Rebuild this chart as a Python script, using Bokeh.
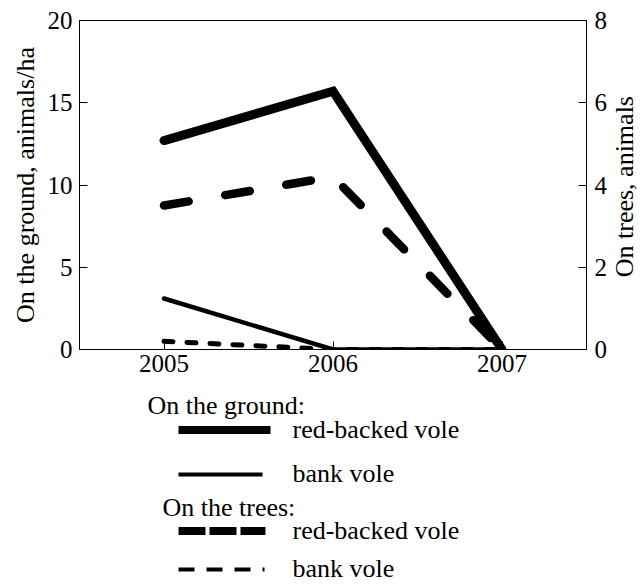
import math
from bokeh.plotting import figure
from bokeh.models import Range1d, LinearAxis, FixedTicker
from bokeh.layouts import gridplot
from bokeh.embed import file_html
from bokeh.resources import INLINE
from bokeh.core.properties import value

# ---- data ----
years = [2005, 2006, 2007]
ground_red_backed = [12.7, 15.7, 0.0]   # animals/ha (left axis)
ground_bank = [3.1, 0.0, 0.0]           # animals/ha (left axis)
trees_red_backed = [3.5, 4.2, 0.0]      # animals (right axis)
trees_bank = [0.2, 0.0, 0.0]            # animals (right axis)

x_ticks = [2005, 2006, 2007]
left_ticks = [0, 5, 10, 15, 20]
right_ticks = [0, 2, 4, 6, 8]

left_title = "On the ground, animals/ha"
right_title = "On trees, animals"
legend_titles = ["On the ground:", "On the trees:"]
legend_labels = ["red-backed vole", "bank vole", "red-backed vole", "bank vole"]

FONT = "Liberation Serif"
TICK_FS = "25px"
LABEL_FS = "26px"

W = 644
MAIN_W = 610
SIDE_W = W - MAIN_W
BL, BR = 79, 24
BT, BB = 20, 40
MAIN_H = 389
LEG_H = 195

# ---- main chart ----
p = figure(width=MAIN_W, height=MAIN_H,
           x_range=Range1d(2004.5, 2007.5), y_range=Range1d(0, 20),
           output_backend="svg", toolbar_location=None,
           min_border_left=BL, min_border_right=BR,
           min_border_top=BT, min_border_bottom=BB)
p.extra_y_ranges = {"trees": Range1d(0, 8)}
p.xgrid.visible = False
p.ygrid.visible = False
p.outline_line_color = "black"
p.outline_line_alpha = 1
p.outline_line_width = 1
p.background_fill_color = "white"
p.border_fill_color = "white"

right_axis = LinearAxis(y_range_name="trees")
p.add_layout(right_axis, "right")

p.xaxis.ticker = FixedTicker(ticks=x_ticks)
p.yaxis[0].ticker = FixedTicker(ticks=left_ticks)
right_axis.ticker = FixedTicker(ticks=right_ticks)

p.yaxis[0].axis_label = left_title

for ax in [p.xaxis[0], p.yaxis[0], right_axis]:
    ax.axis_line_color = "black"
    ax.major_tick_line_color = "black"
    ax.major_tick_in = 8
    ax.major_tick_out = 0
    ax.minor_tick_line_color = None
    ax.major_label_text_font = FONT
    ax.major_label_text_font_size = TICK_FS
    ax.major_label_text_color = "black"
    ax.axis_label_text_font = FONT
    ax.axis_label_text_font_size = LABEL_FS
    ax.axis_label_text_font_style = "normal"
    ax.axis_label_text_color = "black"

p.xaxis.major_label_standoff = 5
p.yaxis[0].major_label_standoff = 7
p.yaxis[0].axis_label_standoff = 5
right_axis.major_label_standoff = 8

p.line(years, ground_red_backed, line_width=9, line_color="black",
       line_join="miter", line_cap="round")
p.line(years, ground_bank, line_width=4.5, line_color="black",
       line_join="miter", line_cap="round")
p.line(years, trees_red_backed, y_range_name="trees", line_width=8.5,
       line_color="black", line_dash="25 37", line_join="round", line_cap="round")
p.line(years, trees_bank, y_range_name="trees", line_width=5,
       line_color="black", line_dash="9 14", line_join="round", line_cap="round")

# ---- right-hand title panel (reads bottom-to-top) ----
side = figure(width=SIDE_W, height=MAIN_H,
              x_range=Range1d(0, SIDE_W), y_range=Range1d(0, 20),
              output_backend="svg", toolbar_location=None,
              x_axis_type=None, y_axis_type=None,
              min_border_left=0, min_border_right=0,
              min_border_top=BT, min_border_bottom=BB)
side.xgrid.visible = False
side.ygrid.visible = False
side.outline_line_color = None
side.background_fill_color = "white"
side.border_fill_color = "white"
side.text(x=[14], y=[9.9], text=[right_title], angle=math.pi / 2,
          text_font=value(FONT), text_font_size=LABEL_FS, text_color="black",
          text_align="center", text_baseline="middle")

# ---- legend panel (x in page pixels, aligned with main frame) ----
leg = figure(width=MAIN_W, height=LEG_H,
             x_range=Range1d(BL, MAIN_W - BR), y_range=Range1d(LEG_H, 0),
             output_backend="svg", toolbar_location=None,
             x_axis_type=None, y_axis_type=None,
             min_border_left=BL, min_border_right=BR,
             min_border_top=0, min_border_bottom=0)
leg.xgrid.visible = False
leg.ygrid.visible = False
leg.outline_line_color = None
leg.background_fill_color = "white"
leg.border_fill_color = "white"

title_x = [147, 162]
title_y = [16, 118]
leg.text(x=title_x, y=title_y, text=legend_titles, text_font=value(FONT),
         text_font_size=LABEL_FS, text_color="black", text_baseline="middle",
         text_align="left")

sample_x0 = [178, 178, 178, 178]
sample_x1 = [270, 262, 265, 264]
sample_y = [40.5, 85, 141.5, 180]
sample_w = [8, 4, 8, 4]
sample_dash = ["solid", "solid", "27 4", "16 12"]
for x0, x1, y, w, d in zip(sample_x0, sample_x1, sample_y, sample_w, sample_dash):
    leg.line([x0, x1], [y, y], line_width=w, line_color="black",
             line_dash=d, line_cap="butt")

label_x = [292] * 4
label_y = [y - 1 for y in sample_y]
leg.text(x=label_x, y=label_y, text=legend_labels, text_font=value(FONT),
         text_font_size=LABEL_FS, text_color="black", text_baseline="middle",
         text_align="left")

grid = gridplot([[p, side], [leg, None]], toolbar_location=None)
open("out.html", "w").write(file_html(grid, INLINE))
